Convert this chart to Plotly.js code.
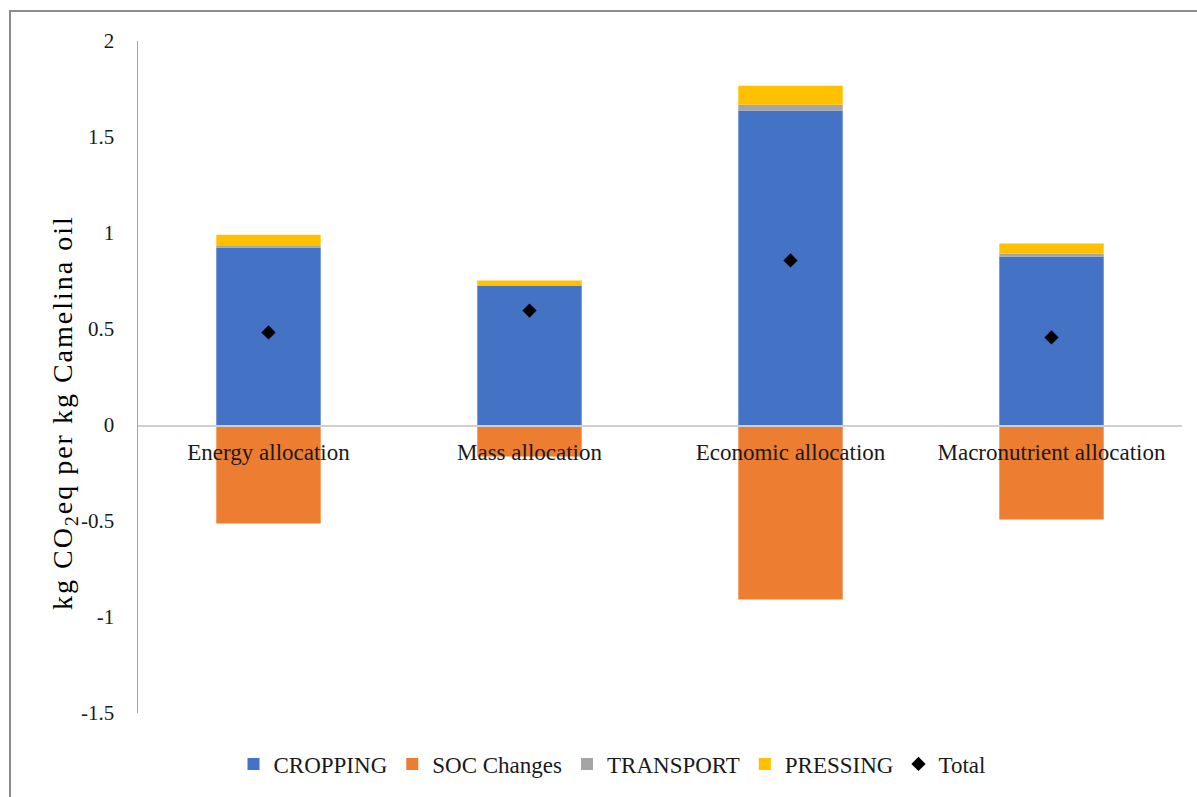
<!DOCTYPE html>
<html>
<head>
<meta charset="utf-8">
<script src="https://cdn.plot.ly/plotly-3.0.1.min.js"></script>
<style>
  html, body { margin: 0; padding: 0; background: #fff; }
  #chart { width: 1197px; height: 797px; }
  /* every label of the chart in a Times-like serif face */
  #chart svg text { font-family: 'Liberation Serif', serif !important; }
  /* the vertical axis caption is set a little wider */
  #chart .annotation-text-g text { letter-spacing: 2px; }
</style>
</head>
<body>
<div id="chart"></div>
<script>
// Allocation methods on the category axis
const categories = ['Energy allocation', 'Mass allocation', 'Economic allocation', 'Macronutrient allocation'];

// Emission contributions, kg CO2eq per kg Camelina oil
const cropping   = [0.924, 0.724, 1.638, 0.878];
const socChanges = [-0.513, -0.164, -0.909, -0.492];
const transport  = [0.008, 0.004, 0.030, 0.015];
const pressing   = [0.059, 0.025, 0.099, 0.052];
const total      = [0.482, 0.596, 0.857, 0.456];

const yTicks = [-1.5, -1, -0.5, 0, 0.5, 1, 1.5, 2];
const yTitle = 'kg CO<sub>2</sub>eq per kg Camelina oil';

const serif = 'Liberation Serif';
const yMin = -1.5, yMax = 2;

// plot-area geometry in pixels, used to place the caption and the frame
const W = 1197, H = 797;
const M = { l: 138, r: 15, t: 41, b: 84 };
const plotW = W - M.l - M.r, plotH = H - M.t - M.b;
const px = x => (x - M.l) / plotW;
const py = y => (H - M.b - y) / plotH;

function barTrace(name, values, color) {
  return {
    type: 'bar', name: name, x: categories, y: values,
    marker: { color: color }, width: 0.4, hoverinfo: 'skip'
  };
}

const traces = [
  barTrace('CROPPING', cropping, '#4472C4'),
  barTrace('SOC Changes', socChanges, '#ED7D31'),
  barTrace('TRANSPORT', transport, '#A5A5A5'),
  barTrace('PRESSING', pressing, '#FFC000'),
  {
    type: 'scatter', mode: 'markers', name: 'Total', x: categories, y: total,
    marker: { symbol: 'diamond', color: '#000', size: 11 }, hoverinfo: 'skip'
  }
];

const layout = {
  width: W, height: H,
  margin: M,
  paper_bgcolor: '#fff', plot_bgcolor: '#fff',
  barmode: 'relative',
  showlegend: true,
  font: { family: serif, color: '#000', size: 21 },
  xaxis: {
    type: 'category',
    anchor: 'free',
    position: (0 - yMin) / (yMax - yMin),
    showline: true, linecolor: '#d0d0d0', linewidth: 1.5,
    ticks: '', showgrid: false, zeroline: false,
    ticklabelstandoff: 6,
    tickfont: { family: serif, size: 23, color: '#1a1a1a' }
  },
  yaxis: {
    range: [yMin, yMax],
    tickvals: yTicks,
    ticktext: yTicks.map(String),
    showline: true, linecolor: '#a6a6a6', linewidth: 1.5,
    ticks: '', showgrid: false, zeroline: false,
    ticklabelstandoff: 18,
    tickfont: { family: serif, size: 21, color: '#1a1a1a' }
  },
  annotations: [{
    text: yTitle, textangle: -90, showarrow: false,
    xref: 'paper', yref: 'paper', x: px(64), y: py(413),
    xanchor: 'center', yanchor: 'middle',
    font: { family: serif, size: 28, color: '#000' }
  }],
  legend: {
    orientation: 'h',
    x: px(612), xanchor: 'center',
    y: py(764), yanchor: 'middle',
    font: { family: serif, size: 23, color: '#1a1a1a' },
    traceorder: 'normal',
    itemwidth: 30
  },
  shapes: [{
    // outer frame of the figure
    type: 'rect', xref: 'paper', yref: 'paper',
    x0: px(10), x1: px(1230),
    y0: py(830), y1: py(11),
    line: { color: '#8c8c8c', width: 2 }, fillcolor: 'rgba(0,0,0,0)'
  }]
};

Plotly.newPlot('chart', traces, layout, { displayModeBar: false, staticPlot: true });
</script>
</body>
</html>
